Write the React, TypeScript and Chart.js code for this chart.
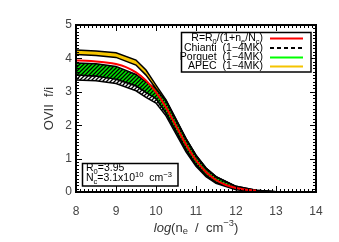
import { useEffect, useRef } from "react";
import { Chart, registerables } from "chart.js";
Chart.register(...registerables);

const FAMILY = "'Liberation Sans', Arial, sans-serif";

// log(ne) grid for the model bands
const densityGrid = [8, 8.5, 9, 9.5, 9.75, 10, 10.25, 10.5, 10.75, 11, 11.25, 11.5, 12, 12.5, 13];
const apecUpper = [4.25, 4.22, 4.17, 3.95, 3.65, 3.2, 2.76, 2.18, 1.6, 1.1, 0.72, 0.46, 0.17, 0.05, 0.01];
const apecLower = [4.12, 4.09, 4.03, 3.8, 3.5, 3.1, 2.72, 2.15, 1.58, 1.08, 0.7, 0.45, 0.16, 0.04, 0.01];
const porquetUpper = [3.86, 3.84, 3.76, 3.52, 3.3, 3.1, 2.74, 2.17, 1.6, 1.1, 0.72, 0.46, 0.17, 0.05, 0.01];
const porquetLower = [3.5, 3.47, 3.38, 3.18, 2.98, 2.8, 2.37, 1.82, 1.27, 0.82, 0.5, 0.29, 0.09, 0.02, 0.0];
const chiantiLower = [3.35, 3.33, 3.25, 3.03, 2.83, 2.66, 2.28, 1.74, 1.2, 0.77, 0.46, 0.26, 0.07, 0.01, 0.0];

// fitted relation R = R0/(1+ne/Nc)
const fitX = [8, 8.25, 8.5, 8.75, 9, 9.25, 9.5, 9.75, 10, 10.25, 10.5, 10.75, 11, 11.25, 11.5, 11.75, 12, 12.25, 12.5];
const fitY = [3.94, 3.93, 3.91, 3.88, 3.83, 3.74, 3.58, 3.34, 2.99, 2.53, 1.98, 1.42, 0.95, 0.6, 0.36, 0.21, 0.12, 0.07, 0.04];

const xTicks = [8, 9, 10, 11, 12, 13, 14];
const yTicks = [0, 1, 2, 3, 4, 5];

type Seg = { t: string; sub?: boolean; sup?: boolean; italic?: boolean };

function drawRich(
  ctx: CanvasRenderingContext2D,
  segs: Seg[],
  x: number,
  y: number,
  size: number,
  align: "left" | "right" | "center"
) {
  const fontFor = (s: Seg) => {
    const sz = s.sub || s.sup ? size * 0.72 : size;
    return `${s.italic ? "italic " : ""}${sz}px ${FAMILY}`;
  };
  const widths = segs.map((s) => {
    ctx.font = fontFor(s);
    return ctx.measureText(s.t).width;
  });
  const total = widths.reduce((a, b) => a + b, 0);
  let cx = align === "left" ? x : align === "right" ? x - total : x - total / 2;
  ctx.textBaseline = "middle";
  ctx.textAlign = "left";
  segs.forEach((s, i) => {
    ctx.font = fontFor(s);
    const dy = s.sub ? size * 0.3 : s.sup ? -size * 0.35 : 0;
    ctx.fillText(s.t, cx, y + dy);
    cx += widths[i];
  });
}

function hatch(bg: string) {
  const c = document.createElement("canvas");
  c.width = 4;
  c.height = 4;
  const g = c.getContext("2d")!;
  g.fillStyle = bg;
  g.fillRect(0, 0, 4, 4);
  g.strokeStyle = "#000";
  g.lineWidth = 1.3;
  g.beginPath();
  g.moveTo(0, 4);
  g.lineTo(4, 0);
  g.moveTo(-1, 1);
  g.lineTo(1, -1);
  g.moveTo(3, 5);
  g.lineTo(5, 3);
  g.stroke();
  return g.createPattern(c, "repeat")!;
}

const decorPlugin = {
  id: "decor",
  afterDraw(chart: any) {
    const ctx: CanvasRenderingContext2D = chart.ctx;
    const { left, right, top, bottom } = chart.chartArea;
    const xs = chart.scales.x;
    const ys = chart.scales.y;
    ctx.save();
    ctx.strokeStyle = "#000";
    ctx.fillStyle = "#000";
    // inward ticks
    ctx.lineWidth = 1;
    ctx.beginPath();
    for (let i = 0; i <= 60; i++) {
      const v = 8 + i * 0.1;
      const px = Math.round(xs.getPixelForValue(v)) + 0.5;
      const len = i % 10 === 0 ? 6 : 3;
      ctx.moveTo(px, bottom);
      ctx.lineTo(px, bottom - len);
      ctx.moveTo(px, top);
      ctx.lineTo(px, top + len);
    }
    for (let i = 0; i <= 50; i++) {
      const v = i * 0.1;
      const py = Math.round(ys.getPixelForValue(v)) + 0.5;
      const len = i % 10 === 0 ? 6 : 3;
      ctx.moveTo(left, py);
      ctx.lineTo(left + len, py);
      ctx.moveTo(right, py);
      ctx.lineTo(right - len, py);
    }
    ctx.stroke();
    // frame
    ctx.lineWidth = 2;
    ctx.strokeRect(left, top, right - left, bottom - top);

    // legend box
    ctx.fillStyle = "#fff";
    ctx.fillRect(181, 32, 130, 40);
    ctx.lineWidth = 1.5;
    ctx.strokeRect(181.5, 32.5, 129.5, 39.5);
    ctx.fillStyle = "#000";
    const rows = [38.5, 48, 57.5, 66.5];
    const tx = 263;
    drawRich(
      ctx,
      [
        { t: "R=R" },
        { t: "0", sub: true },
        { t: "/(1+n" },
        { t: "e", sub: true },
        { t: "/N" },
        { t: "c", sub: true },
        { t: ")" },
      ],
      tx,
      rows[0],
      10.5,
      "right"
    );
    drawRich(ctx, [{ t: "Chianti  (1\u22124MK)" }], tx, rows[1], 10.5, "right");
    drawRich(ctx, [{ t: "Porquet  (1\u22124MK)" }], tx, rows[2], 10.5, "right");
    drawRich(ctx, [{ t: "APEC  (1\u22124MK)" }], tx, rows[3], 10.5, "right");
    const sample = (y: number, color: string, dash: number[]) => {
      ctx.beginPath();
      ctx.setLineDash(dash);
      ctx.strokeStyle = color;
      ctx.lineWidth = 2;
      ctx.moveTo(270, y);
      ctx.lineTo(303, y);
      ctx.stroke();
      ctx.setLineDash([]);
    };
    sample(rows[0], "#ff0000", []);
    sample(rows[1], "#000", [4, 3]);
    sample(rows[2], "#00ff00", []);
    sample(rows[3], "#f5c400", []);

    // info box
    ctx.fillStyle = "#fff";
    ctx.fillRect(82, 163, 96, 23);
    ctx.strokeStyle = "#000";
    ctx.lineWidth = 1.5;
    ctx.strokeRect(82.5, 163.5, 95.5, 22.5);
    ctx.fillStyle = "#000";
    drawRich(ctx, [{ t: "R" }, { t: "0", sub: true }, { t: "=3.95" }], 86, 168.5, 10.5, "left");
    drawRich(
      ctx,
      [
        { t: "N" },
        { t: "c", sub: true },
        { t: "=3.1x10" },
        { t: "10", sup: true },
        { t: "  cm" },
        { t: "\u22123", sup: true },
      ],
      86,
      178.5,
      10.5,
      "left"
    );

    // axis titles
    ctx.fillStyle = "#333";
    ctx.save();
    ctx.translate(49, (top + bottom) / 2);
    ctx.rotate(-Math.PI / 2);
    drawRich(ctx, [{ t: "OVII  f/i" }], 0, 0, 13, "center");
    ctx.restore();
    drawRich(
      ctx,
      [
        { t: "log", italic: true },
        { t: "(n" },
        { t: "e", sub: true },
        { t: "  /  cm" },
        { t: "\u22123", sup: true },
        { t: ")" },
      ],
      (left + right) / 2,
      228,
      13,
      "center"
    );
    ctx.restore();
  },
};

export default function App() {
  const ref = useRef<HTMLCanvasElement | null>(null);
  useEffect(() => {
    if (!ref.current) return;
    const pts = (ys: number[]) => densityGrid.map((x, i) => ({ x, y: ys[i] }));
    const greenHatch = hatch("#00e600");
    const whiteHatch = hatch("#ffffff");
    const band = { pointRadius: 0, borderColor: "#000", borderWidth: 1.5, tension: 0 };
    const chart = new Chart(ref.current, {
      type: "line",
      data: {
        datasets: [
          {
            label: "R=R0/(1+ne/Nc)",
            data: fitX.map((x, i) => ({ x, y: fitY[i] })),
            borderColor: "#ff0000",
            borderWidth: 2,
            pointRadius: 0,
            cubicInterpolationMode: "monotone",
            fill: false,
            order: 0,
          },
          { label: "APEC lower", data: pts(apecLower), ...band, fill: false, order: 1 },
          { label: "APEC (1-4MK)", data: pts(apecUpper), ...band, fill: "-1", backgroundColor: "#f7c600", order: 1 },
          { label: "Porquet lower", data: pts(porquetLower), ...band, fill: false, order: 2 },
          { label: "Porquet (1-4MK)", data: pts(porquetUpper), ...band, fill: "-1", backgroundColor: greenHatch, order: 2 },
          { label: "Chianti lower", data: pts(chiantiLower), ...band, fill: false, order: 3 },
          { label: "Chianti (1-4MK)", data: pts(porquetLower), ...band, fill: "-1", backgroundColor: whiteHatch, order: 3 },
        ] as any,
      },
      options: {
        responsive: false,
        animation: false,
        devicePixelRatio: 1,
        layout: { padding: { top: 25, right: 23, left: 0, bottom: 0 } },
        plugins: { legend: { display: false }, tooltip: { enabled: false } },
        scales: {
          x: {
            type: "linear",
            min: 8,
            max: 14,
            afterBuildTicks: (s: any) => {
              s.ticks = xTicks.map((v) => ({ value: v }));
            },
            afterFit: (s: any) => {
              s.height = 50;
            },
            ticks: { font: { family: FAMILY, size: 12 }, color: "#444", padding: 12, maxRotation: 0, autoSkip: false },
            grid: { display: false, drawTicks: false },
            border: { display: false },
          },
          y: {
            type: "linear",
            min: 0,
            max: 5,
            afterBuildTicks: (s: any) => {
              s.ticks = yTicks.map((v) => ({ value: v }));
            },
            afterFit: (s: any) => {
              s.width = 76;
            },
            ticks: { font: { family: FAMILY, size: 12 }, color: "#444", padding: 4 },
            grid: { display: false, drawTicks: false },
            border: { display: false },
          },
        },
      },
      plugins: [decorPlugin],
    });
    return () => chart.destroy();
  }, []);
  return (
    <div style={{ position: "fixed", left: 0, top: 0, width: 339, height: 242, background: "#fff" }}>
      <canvas ref={ref} width={339} height={242} />
    </div>
  );
}
